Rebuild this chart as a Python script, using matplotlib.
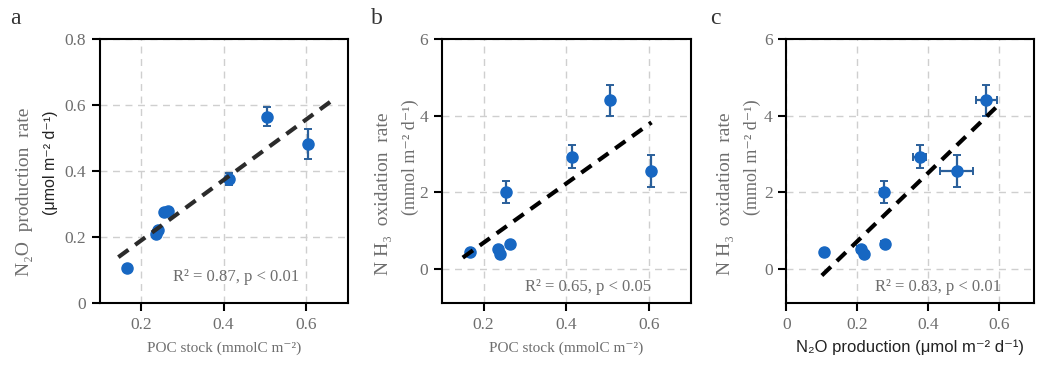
import numpy as np
import matplotlib
matplotlib.use("Agg")
from matplotlib import pyplot as plt

# values
poc = [0.167, 0.235, 0.240, 0.255, 0.265, 0.413, 0.505, 0.605]
n2o = [0.105, 0.210, 0.220, 0.275, 0.278, 0.376, 0.565, 0.481]
n2o_err = [0.005, 0.010, 0.010, 0.010, 0.010, 0.018, 0.030, 0.046]
nh3 = [0.42, 0.52, 0.38, 2.00, 0.63, 2.92, 4.40, 2.55]
nh3_err = [0.03, 0.04, 0.04, 0.29, 0.05, 0.30, 0.41, 0.42]
fit_ranges = [(0.145, 0.665), (0.15, 0.605), (0.10, 0.605)]
stats = ["R\u00b2 = 0.87, p < 0.01", "R\u00b2 = 0.65, p < 0.05", "R\u00b2 = 0.83, p < 0.01"]
letters = ["a", "b", "c"]

SERIF = ["Liberation Serif", "DejaVu Serif"]
SANS = ["Liberation Sans", "DejaVu Sans"]
GRAY = "#6e6e6e"
BLUE = "#1767c2"
EBLUE = "#2a5f9a"

plt.rcParams["font.family"] = SERIF

fig = plt.figure(figsize=(10.5, 3.75), dpi=100)
rects = [[0.095, 0.192, 0.236, 0.704],
         [0.421, 0.192, 0.237, 0.704],
         [0.749, 0.192, 0.236, 0.704]]
axs = [fig.add_axes(r) for r in rects]


def style(ax):
    for s in ax.spines.values():
        s.set_linewidth(1.5)
        s.set_color("black")
    ax.tick_params(direction="out", length=6, width=1.5, labelsize=12.5,
                   labelcolor=GRAY, pad=4)
    ax.grid(True, ls=(0, (5, 4)), color="#cfcfcf", lw=1)
    ax.set_axisbelow(True)


def panel(ax, x, y, xerr, yerr, rng, color):
    ax.errorbar(x, y, xerr=xerr, yerr=yerr, fmt="o", ms=8, color=BLUE,
                ecolor=EBLUE, elinewidth=1.6, capsize=3, capthick=1.4, zorder=3)
    k, b = np.polyfit(x, y, 1)
    xx = np.array(rng)
    ax.plot(xx, k * xx + b, ls=(0, (3, 2)), color=color, lw=3, zorder=4)


# a
ax = axs[0]
panel(ax, poc, n2o, None, n2o_err, fit_ranges[0], "#2b2b2b")
ax.set_xlim(0.1, 0.7)
ax.set_ylim(0, 0.8)
ax.set_xticks([0.2, 0.4, 0.6])
ax.set_yticks([0, 0.2, 0.4, 0.6, 0.8])
ax.set_yticklabels(["0", "0.2", "0.4", "0.6", "0.8"])

# b
ax = axs[1]
panel(ax, poc, nh3, None, nh3_err, fit_ranges[1], "black")
ax.set_xlim(0.1, 0.7)
ax.set_ylim(-0.9, 6)
ax.set_xticks([0.2, 0.4, 0.6])
ax.set_yticks([0, 2, 4, 6])

# c
ax = axs[2]
panel(ax, n2o, nh3, n2o_err, nh3_err, fit_ranges[2], "black")
ax.set_xlim(0, 0.7)
ax.set_ylim(-0.9, 6)
ax.set_xticks([0, 0.2, 0.4, 0.6])
ax.set_xticklabels(["0", "0.2", "0.4", "0.6"])
ax.set_yticks([0, 2, 4, 6])

stat_pos = [(0.294, 0.10), (0.333, 0.06), (0.359, 0.06)]
for ax, s, p in zip(axs, stats, stat_pos):
    style(ax)
    ax.text(p[0], p[1], s, transform=ax.transAxes, fontsize=12,
            color=GRAY, family=SERIF, va="center", ha="left")

# panel letters
for lx, l in zip([15, 377, 715], letters):
    fig.text(lx / 1050, 1 - 18 / 375, l, fontsize=17, color="#333333",
             family=SERIF, ha="center", va="center")

# x labels
fig.text(224 / 1050, 1 - 348 / 375, "POC stock (mmolC m\u207b\u00b2)",
         fontsize=11, color=GRAY, family=SERIF, ha="center", va="center")
fig.text(566 / 1050, 1 - 348 / 375, "POC stock (mmolC m\u207b\u00b2)",
         fontsize=11, color=GRAY, family=SERIF, ha="center", va="center")
fig.text(910 / 1050, 1 - 347 / 375, "N\u2082O production (\u03bcmol m\u207b\u00b2 d\u207b\u00b9)",
         fontsize=12, color="#222222", family=SANS, ha="center", va="center")

# y labels (two lines each)
fig.text(25 / 1050, 1 - 192 / 375, "N\u2082O  production  rate", rotation=90,
         fontsize=14, color=GRAY, family=SERIF, ha="center", va="center")
fig.text(50 / 1050, 1 - 163 / 375, "(\u03bcmol m\u207b\u00b2 d\u207b\u00b9)", rotation=90,
         fontsize=11.5, color="#222222", family=SANS, ha="center", va="center")
for x1, x2 in [(383, 410), (725, 752)]:
    fig.text(x1 / 1050, 1 - 194 / 375, "N H\u2083  oxidation  rate", rotation=90,
             fontsize=14, color=GRAY, family=SERIF, ha="center", va="center")
    fig.text(x2 / 1050, 1 - 157 / 375, "(mmol m\u207b\u00b2 d\u207b\u00b9)", rotation=90,
             fontsize=13, color=GRAY, family=SERIF, ha="center", va="center")

fig.savefig("out.png", dpi=100, facecolor="white")
